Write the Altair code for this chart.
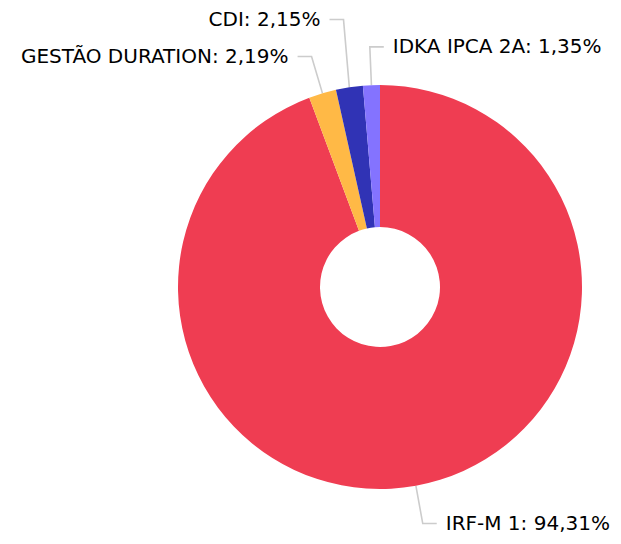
import math
import altair as alt
import pandas as pd

# ---- data ----
names = ["IRF-M 1", "GESTÃO DURATION", "CDI", "IDKA IPCA 2A"]
values = [94.31, 2.19, 2.15, 1.35]
colors = ["#EF3D52", "#FFB946", "#3033B5", "#8473FF"]

# ---- layout ----
W, H = 605, 528
CX, CY = 372, 279
R_OUT, R_IN = 202, 60
ELBOW = 1.19
SEG = 14
GAP = 9
MIN_SPACING = 37
FONT = "DejaVu Sans"
FONT_SIZE = 20

total = sum(values)
labels = [f"{n}: {v:.2f}%".replace(".", ",") for n, v in zip(names, values)]

slices = pd.DataFrame({"name": names, "value": values, "idx": list(range(len(names))), "label": labels})

# geometry derived from the data (unit coordinates, y up)
rows = []
cum = 0.0
for i, (n, v) in enumerate(zip(names, values)):
    a = 2 * math.pi * (cum + v / 2) / total
    cum += v
    sx, sy = math.sin(a), math.cos(a)
    side = 1 if sx >= -0.05 else -1
    rows.append(dict(name=n, label=labels[i], side=side, ex=sx, ey=sy,
                     bx=ELBOW * sx, by=ELBOW * sy))

# simple overlap avoidance per side (pixel units converted to unit coords)
for side in (1, -1):
    grp = sorted([r for r in rows if r["side"] == side and r["by"] > 0], key=lambda r: r["by"])
    prev = None
    for r in grp:
        if prev is not None and r["by"] - prev < MIN_SPACING / R_OUT:
            r["by"] = prev + MIN_SPACING / R_OUT
        prev = r["by"]

line_pts = []
text_rows = []
for r in rows:
    hx = r["bx"] + r["side"] * SEG / R_OUT
    line_pts += [
        dict(name=r["name"], k=0, x=r["ex"], y=r["ey"]),
        dict(name=r["name"], k=1, x=r["bx"], y=r["by"]),
        dict(name=r["name"], k=2, x=hx, y=r["by"]),
    ]
    text_rows.append(dict(name=r["name"], label=r["label"], side=r["side"],
                          x=hx + r["side"] * GAP / R_OUT, y=r["by"]))
lines = pd.DataFrame(line_pts)
texts = pd.DataFrame(text_rows)

xs = alt.Scale(domain=[-1, 1], range=[CX - R_OUT, CX + R_OUT], zero=False, nice=False)
ys = alt.Scale(domain=[-1, 1], range=[CY + R_OUT, CY - R_OUT], zero=False, nice=False)

arcs = alt.Chart(slices).mark_arc(innerRadius=R_IN, outerRadius=R_OUT, stroke=None).encode(
    theta=alt.Theta("value:Q", stack=True),
    color=alt.Color("name:N", scale=alt.Scale(domain=names, range=colors), legend=None),
    order=alt.Order("idx:Q"),
    x=alt.value(CX),
    y=alt.value(CY),
)

leader = alt.Chart(lines).mark_line(color="#cccccc", strokeWidth=1.6).encode(
    x=alt.X("x:Q", scale=xs, axis=None),
    y=alt.Y("y:Q", scale=ys, axis=None),
    detail="name:N",
    order="k:Q",
)

def text_layer(side, align):
    return alt.Chart(texts).transform_filter(alt.datum.side == side).mark_text(
        align=align, baseline="middle", font=FONT, fontSize=FONT_SIZE, color="#000000"
    ).encode(
        x=alt.X("x:Q", scale=xs, axis=None),
        y=alt.Y("y:Q", scale=ys, axis=None),
        text="label:N",
    )

chart = alt.layer(leader, arcs, text_layer(1, "left"), text_layer(-1, "right")).properties(
    width=W, height=H, autosize=alt.AutoSizeParams(type="none"), padding=0
).configure_view(stroke=None)

chart.save("out.html", embed_options={"renderer": "svg", "actions": False})
